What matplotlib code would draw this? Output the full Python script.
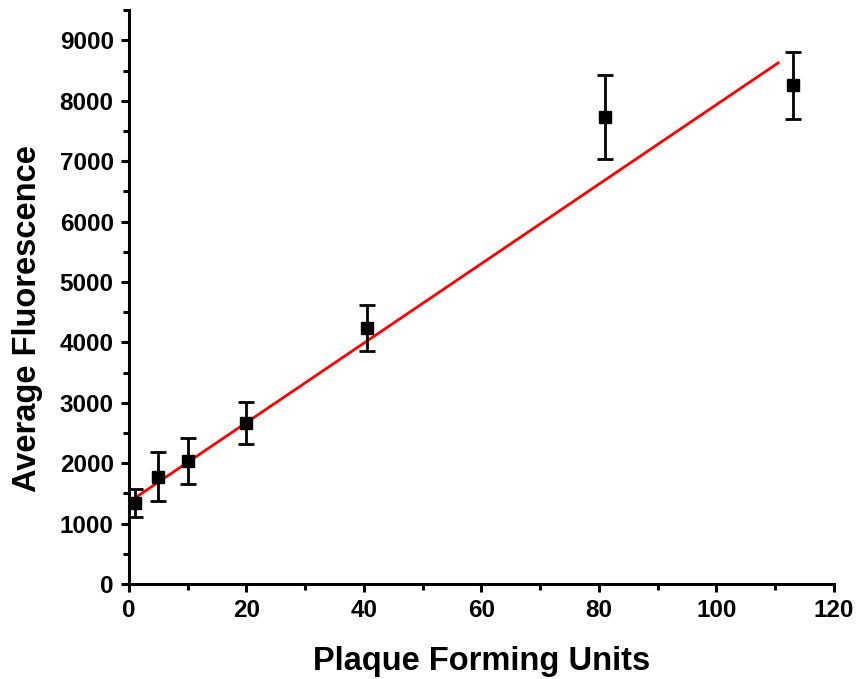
import numpy as np
import matplotlib
matplotlib.use('Agg')
import matplotlib.pyplot as plt
from matplotlib.ticker import MultipleLocator

# data
pfu = [1, 5, 10, 20, 40.5, 81, 113]
fluor = [1340, 1780, 2035, 2660, 4236, 7730, 8255]
fluor_err = [230, 405, 380, 350, 380, 700, 550]

# linear fit shown in red
fit_intercept = 1357
fit_slope = 65.8
fit_x = [0, 110.5]

plt.rcParams['font.family'] = ['Liberation Sans', 'DejaVu Sans']
plt.rcParams['font.weight'] = 'bold'

fig = plt.figure(figsize=(8.58, 6.79), dpi=100)
ax = fig.add_axes([0.1503, 0.1399, 0.8217, 0.845])

fx = np.array(fit_x)
ax.plot(fx, fit_intercept + fit_slope * fx, color='red', linewidth=2.0, zorder=2)

ax.errorbar(pfu, fluor, yerr=fluor_err, fmt='s', color='black', markersize=8,
            ecolor='black', elinewidth=2.0, capsize=5.5, capthick=2.0, zorder=3)

ax.set_xlim(0, 120)
ax.set_ylim(0, 9500)
ax.xaxis.set_major_locator(MultipleLocator(20))
ax.xaxis.set_minor_locator(MultipleLocator(10))
ax.yaxis.set_major_locator(MultipleLocator(1000))
ax.yaxis.set_minor_locator(MultipleLocator(500))

for s in ['top', 'right']:
    ax.spines[s].set_visible(False)
for s in ['left', 'bottom']:
    ax.spines[s].set_linewidth(2.2)

ax.tick_params(which='major', direction='out', length=6, width=2.2, labelsize=17.5, pad=5)
ax.tick_params(which='minor', direction='out', length=4, width=2.2)
for lab in ax.get_xticklabels() + ax.get_yticklabels():
    lab.set_fontweight('bold')

ax.set_xlabel('Plaque Forming Units', fontsize=23.5, fontweight='bold', labelpad=17)
ax.set_ylabel('Average Fluorescence', fontsize=23.5, fontweight='bold')
ax.yaxis.set_label_coords(-0.122, 0.463)

fig.savefig('out.png', dpi=100)
